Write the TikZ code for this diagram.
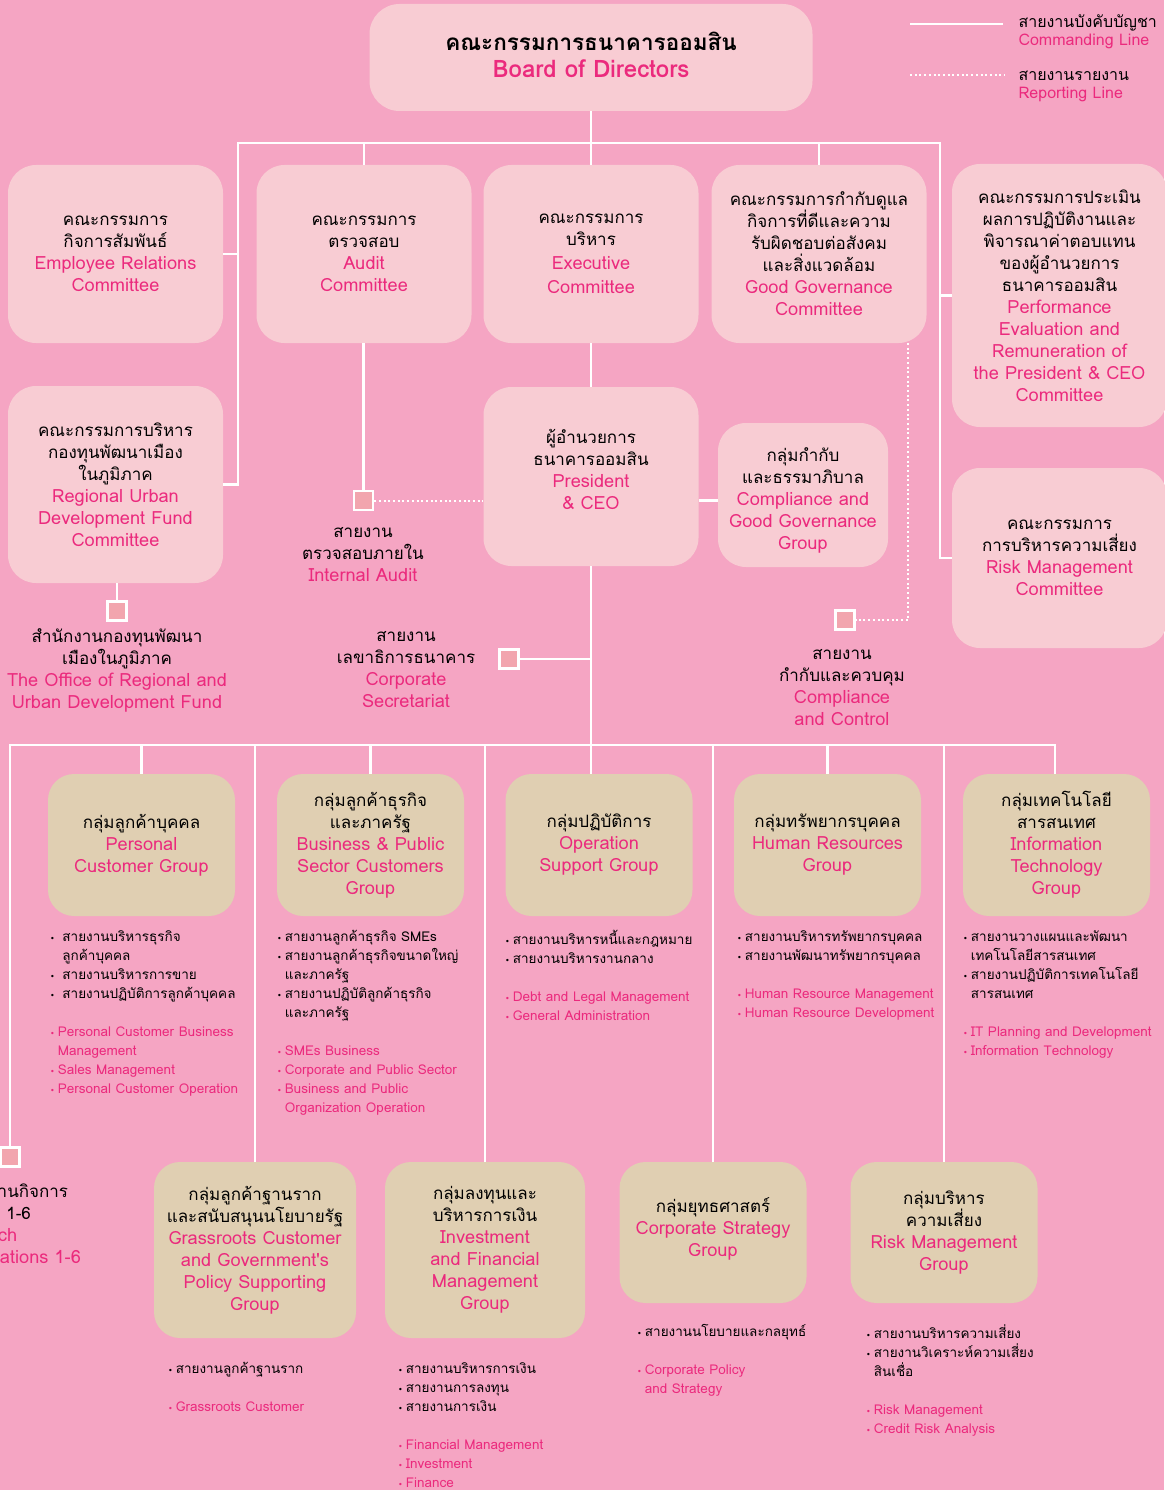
\documentclass[tikz,border=0pt]{standalone}
\usepackage{fontspec}
\setmainfont[Script=Thai]{Loma}
\newfontfamily\engfont[Scale=1.07]{Loma}
\newfontfamily\dejavu{DejaVu Sans}

\definecolor{bgpink}{HTML}{F5A5C3}
\definecolor{lightpink}{HTML}{F8CCD3}
\definecolor{tanbox}{HTML}{E0CFB2}
\definecolor{gsbpink}{HTML}{EB2A7D}
\definecolor{sqpink}{HTML}{F2A5AE}

\newcommand{\eng}[1]{{\engfont\color{gsbpink}#1}}
\newcommand{\engl}[1]{\textcolor{gsbpink}{#1}}
\newcommand{\bl}{{\dejavu\fontsize{8}{8}\selectfont •}\hspace{3pt}}
\newcommand{\ind}{\phantom{\bl}}

\begin{document}
\begin{tikzpicture}[x=1pt,y=-1pt,
  board/.style={fill=lightpink, rounded corners=30pt, minimum width=443pt, minimum height=107pt, align=center, font=\fontsize{22.5}{27}\selectfont},
  cbox/.style={fill=lightpink, rounded corners=28pt, minimum width=215pt, minimum height=178pt, align=center, font=\fontsize{17}{22}\selectfont},
  gbox/.style={fill=tanbox, rounded corners=26pt, minimum width=187pt, minimum height=142pt, align=center, font=\fontsize{17}{22}\selectfont},
  unit/.style={draw=white, line width=2.4pt, fill=sqpink, minimum size=19pt, inner sep=0pt},
  lbl/.style={align=center, font=\fontsize{17}{22}\selectfont},
  lst/.style={align=left, anchor=north west, inner sep=0pt, font=\fontsize{13.5}{19}\selectfont},
  cmd/.style={draw=white, line width=2.2pt},
  rpt/.style={draw=white, line width=2pt, dash pattern=on 2pt off 2.7pt}]
\useasboundingbox (0,0) rectangle (1164,1490);
\fill[bgpink] (0,0) rectangle (1164,1490);

% legend
\draw[cmd] (910,24) -- (1003,24);
\draw[rpt] (910,75) -- (1005,75);
\node[anchor=west, align=left, font=\fontsize{16}{18}\selectfont] (legc) at (1015,32) {สายงานบังคับบัญชา\\\engl{Commanding Line}};
\node[anchor=west, align=left, font=\fontsize{16}{18}\selectfont] (legr) at (1015,86) {สายงานรายงาน\\\engl{Reporting Line}};

% board and committees
\node[board] (board) at (591,57.5) {{\bfseries คณะกรรมการธนาคารออมสิน}\\\eng{\bfseries Board of Directors}\rule[-5pt]{0pt}{0pt}};
\node[cbox] (er) at (115.5,254) {คณะกรรมการ\\กิจการสัมพันธ์\\\eng{Employee Relations}\\\eng{Committee}};
\node[cbox] (audit) at (364,254) {คณะกรรมการ\\ตรวจสอบ\\\eng{Audit}\\\eng{Committee}};
\node[cbox] (exec) at (591,254) {คณะกรรมการ\\บริหาร\\[2pt]\eng{Executive}\\[2pt]\eng{Committee}};
\node[cbox] (gg) at (819,254) {คณะกรรมการกำกับดูแล\\กิจการที่ดีและความ\\รับผิดชอบต่อสังคม\\และสิ่งแวดล้อม\\\eng{Good Governance}\\\eng{Committee}};
\node[cbox, minimum height=263pt] (pe) at (1059.5,295.5) {คณะกรรมการประเมิน\\ผลการปฏิบัติงานและ\\พิจารณาค่าตอบแทน\\ของผู้อำนวยการ\\ธนาคารออมสิน\\\eng{Performance}\\\eng{Evaluation and}\\\eng{Remuneration of}\\\eng{the President \& CEO}\\\eng{Committee}};
\node[cbox, minimum height=197pt] (ruc) at (115.5,484.5) {คณะกรรมการบริหาร\\กองทุนพัฒนาเมือง\\ในภูมิภาค\\\eng{Regional Urban}\\\eng{Development Fund}\\\eng{Committee}};
\node[cbox, minimum height=179pt] (ceo) at (591,476.5) {ผู้อำนวยการ\\ธนาคารออมสิน\\\eng{President}\\\eng{\& CEO}\\[-8pt]\mbox{}};
\node[cbox, minimum width=170pt, minimum height=144pt] (cgg) at (803,495) {\rule{0pt}{25pt}กลุ่มกำกับ\\และธรรมาภิบาล\\\eng{Compliance and}\\\eng{Good Governance}\\\eng{Group}};
\node[cbox, minimum height=180pt] (rmc) at (1059.5,558) {คณะกรรมการ\\การบริหารความเสี่ยง\\\eng{Risk Management}\\\eng{Committee}};

% units
\node[unit] (ia) at (363.5,500.5) {};
\node[lbl] (iatxt) at (363,555) {สายงาน\\ตรวจสอบภายใน\\\eng{Internal Audit}};
\node[unit] (orudf) at (117,611) {};
\node[lbl] (orudftxt) at (117,670) {สำนักงานกองทุนพัฒนา\\เมืองในภูมิภาค\\\eng{The Office of Regional and}\\\eng{Urban Development Fund}};
\node[unit] (sec) at (509,659) {};
\node[lbl] (sectxt) at (406,670) {สายงาน\\เลขาธิการธนาคาร\\\eng{Corporate}\\\eng{Secretariat}};
\node[unit] (cc) at (845,620) {};
\node[lbl] (cctxt) at (842,687.5) {สายงาน\\กำกับและควบคุม\\\eng{Compliance}\\\eng{and Control}};
\node[unit] (bro) at (10,1157) {};
\node[lbl, align=left, anchor=west] (brotxt) at (-44,1226) {สายงานกิจการ\\สาขา 1-6\\\eng{Branch}\\\eng{Operations 1-6}};

% groups, first row
\node[gbox] (pc) at (141.5,845) {กลุ่มลูกค้าบุคคล\\\eng{Personal}\\\eng{Customer Group}};
\node[gbox] (bp) at (370.5,845) {กลุ่มลูกค้าธุรกิจ\\และภาครัฐ\\\eng{Business \& Public}\\\eng{Sector Customers}\\\eng{Group}};
\node[gbox] (op) at (599,845) {กลุ่มปฏิบัติการ\\\eng{Operation}\\\eng{Support Group}};
\node[gbox] (hr) at (827.5,845) {กลุ่มทรัพยากรบุคคล\\\eng{Human Resources}\\\eng{Group}};
\node[gbox] (it) at (1056.5,845) {กลุ่มเทคโนโลยี\\สารสนเทศ\\\eng{Information}\\\eng{Technology}\\\eng{Group}};

% groups, second row
\node[gbox, minimum width=202pt, minimum height=176pt] (grc) at (255,1250) {กลุ่มลูกค้าฐานราก\\และสนับสนุนนโยบายรัฐ\\\eng{Grassroots Customer}\\\eng{and Government's}\\\eng{Policy Supporting}\\\eng{Group}};
\node[gbox, minimum width=200pt, minimum height=176pt] (inv) at (485,1250) {กลุ่มลงทุนและ\\บริหารการเงิน\\\eng{Investment}\\\eng{and Financial}\\\eng{Management}\\\eng{Group}};
\node[gbox, minimum height=141pt] (cs) at (713,1232.5) {กลุ่มยุทธศาสตร์\\\eng{Corporate Strategy}\\\eng{Group}\rule[-10pt]{0pt}{0pt}};
\node[gbox, minimum height=141pt] (rmg) at (944,1232.5) {กลุ่มบริหาร\\ความเสี่ยง\\\eng{Risk Management}\\\eng{Group}};

% lists
\node[lst] (pclist) at (50,930) {\bl\ สายงานบริหารธุรกิจ\\\ind\ ลูกค้าบุคคล\\\bl\ สายงานบริหารการขาย\\\bl\ สายงานปฏิบัติการลูกค้าบุคคล\\[19pt]\engl{\bl Personal Customer Business}\\\engl{\ind Management}\\\engl{\bl Sales Management}\\\engl{\bl Personal Customer Operation}};
\node[lst] (bplist) at (277,930) {\bl สายงานลูกค้าธุรกิจ SMEs\\\bl สายงานลูกค้าธุรกิจขนาดใหญ่\\\ind และภาครัฐ\\\bl สายงานปฏิบัติลูกค้าธุรกิจ\\\ind และภาครัฐ\\[19pt]\engl{\bl SMEs Business}\\\engl{\bl Corporate and Public Sector}\\\engl{\bl Business and Public}\\\engl{\ind Organization Operation}};
\node[lst] (oplist) at (505,930) {\bl สายงานบริหารหนี้และกฎหมาย\\\bl สายงานบริหารงานกลาง\\[19pt]\engl{\bl Debt and Legal Management}\\\engl{\bl General Administration}};
\node[lst] (hrlist) at (737,930) {\bl สายงานบริหารทรัพยากรบุคคล\\\bl สายงานพัฒนาทรัพยากรบุคคล\\[19pt]\engl{\bl Human Resource Management}\\\engl{\bl Human Resource Development}};
\node[lst] (itlist) at (963,930) {\bl สายงานวางแผนและพัฒนา\\\ind เทคโนโลยีสารสนเทศ\\\bl สายงานปฏิบัติการเทคโนโลยี\\\ind สารสนเทศ\\[19pt]\engl{\bl IT Planning and Development}\\\engl{\bl Information Technology}};
\node[lst] (grclist) at (168,1362) {\bl สายงานลูกค้าฐานราก\\[19pt]\engl{\bl Grassroots Customer}};
\node[lst] (invlist) at (398,1362) {\bl สายงานบริหารการเงิน\\\bl สายงานการลงทุน\\\bl สายงานการเงิน\\[19pt]\engl{\bl Financial Management}\\\engl{\bl Investment}\\\engl{\bl Finance}};
\node[lst] (cslist) at (637,1324) {\bl สายงานนโยบายและกลยุทธ์\\[19pt]\engl{\bl Corporate Policy}\\\engl{\ind and Strategy}};
\node[lst] (rmglist) at (866,1324) {\bl สายงานบริหารความเสี่ยง\\\bl สายงานวิเคราะห์ความเสี่ยง\\\ind สินเชื่อ\\[19pt]\engl{\bl Risk Management}\\\engl{\bl Credit Risk Analysis}};

% commanding lines
\coordinate (tl) at (238,143);
\coordinate (tr) at (940,143);
\draw[cmd] (board.south) -- (exec.north);
\draw[cmd] (ruc.east) -| (tl) -- (tr) |- (rmc.west);
\draw[cmd] (er.east) -- (er.east -| tl);
\draw[cmd] (pe.west) -- (pe.west -| tr);
\draw[cmd] (audit.north) -- (audit.north |- tl);
\draw[cmd] (gg.north) -- (gg.north |- tl);
\draw[cmd] (exec.south) -- (ceo.north);
\draw[cmd] (ia.north |- audit.south) -- (ia.north);
\draw[cmd] (ceo.east |- ia.east) -- (cgg.west |- ia.east);
\draw[cmd] (orudf.north |- ruc.south) -- (orudf.north);
\draw[cmd] (sec.east) -- (sec.east -| ceo.south);
\coordinate (bl) at (10,745);
\coordinate (br) at (1055,745);
\draw[cmd] (bro.north) -- (bl) -- (br) -- (br |- it.north);
\draw[cmd] (ceo.south) -- (ceo.south |- op.north);
\foreach \g in {pc,bp,hr,grc,inv,cs,rmg} {\draw[cmd] (\g.north) -- (\g.north |- bl);}

% reporting lines
\coordinate (ggdot) at (908,343);
\draw[rpt] (ia.east) -- (ia.east -| ceo.west);
\draw[rpt] (ggdot) |- (cc.east);
\end{tikzpicture}
\end{document}
